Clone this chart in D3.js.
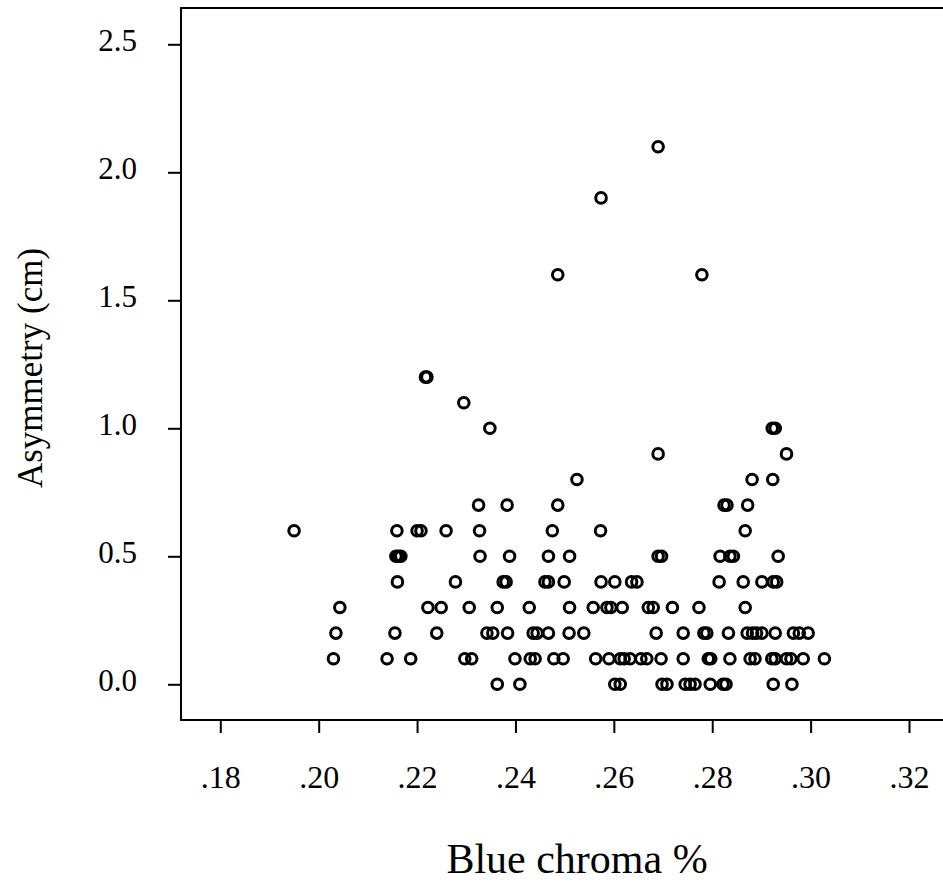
<!DOCTYPE html>
<html>
<head>
<meta charset="utf-8">
<script src="https://cdn.jsdelivr.net/npm/d3@7"></script>
<style>
  body { margin: 0; background: #fff; }
  svg { display: block; font-family: "Liberation Serif", "Times New Roman", serif; }
</style>
</head>
<body>
<div id="scatter"></div>
<script>
// tick labels
const xTicks = [0.18, 0.20, 0.22, 0.24, 0.26, 0.28, 0.30, 0.32];
const yTicks = [0.0, 0.5, 1.0, 1.5, 2.0, 2.5];

// asymmetry (cm) is recorded in 0.1 steps, so points sit in rows
const asymmetryLevels = [0.0, 0.1, 0.2, 0.3, 0.4, 0.5, 0.6, 0.7, 0.8, 0.9, 1.0, 1.1, 1.2, 1.6, 1.9, 2.1];

// blue chroma % of every case, one list per asymmetry level
const blueChromaRows = [
  [0.2363, 0.2409, 0.2602, 0.2613, 0.2698, 0.2708, 0.2745, 0.2755, 0.2765, 0.2796, 0.2822, 0.2828, 0.2924, 0.2962],
  [0.2030, 0.2139, 0.2187, 0.2297, 0.2311, 0.2399, 0.2430, 0.2440, 0.2478, 0.2497, 0.2563, 0.2590, 0.2613, 0.2621, 0.2633,
   0.2655, 0.2667, 0.2696, 0.2741, 0.2792, 0.2797, 0.2836, 0.2877, 0.2887, 0.2921, 0.2928, 0.2951, 0.2960, 0.2985, 0.3028],
  [0.2035, 0.2155, 0.2240, 0.2342, 0.2354, 0.2384, 0.2436, 0.2444, 0.2467, 0.2509, 0.2539, 0.2686, 0.2741, 0.2783, 0.2789,
   0.2833, 0.2871, 0.2882, 0.2890, 0.2901, 0.2928, 0.2965, 0.2977, 0.2995],
  [0.2043, 0.2222, 0.2249, 0.2306, 0.2363, 0.2428, 0.2510, 0.2558, 0.2586, 0.2594, 0.2617, 0.2670, 0.2680, 0.2719, 0.2773, 0.2867],
  [0.2160, 0.2278, 0.2375, 0.2381, 0.2460, 0.2467, 0.2499, 0.2574, 0.2602, 0.2636, 0.2647, 0.2814, 0.2863, 0.2901, 0.2924, 0.2931],
  [0.2157, 0.2162, 0.2167, 0.2328, 0.2388, 0.2467, 0.2510, 0.2690, 0.2697, 0.2816, 0.2836, 0.2843, 0.2934],
  [0.1950, 0.2159, 0.2200, 0.2208, 0.2259, 0.2327, 0.2475, 0.2573, 0.2867],
  [0.2325, 0.2383, 0.2486, 0.2824, 0.2830, 0.2872],
  [0.2525, 0.2881, 0.2923],
  [0.2690, 0.2951],
  [0.2348, 0.2922, 0.2928],
  [0.2295],
  [0.2217, 0.2220],
  [0.2486, 0.2779],
  [0.2574],
  [0.2690]
];

const width = 943, height = 882;
const frame = { left: 181, top: 8, bottom: 720, right: 970 };

const points = blueChromaRows.flatMap((row, i) =>
  row.map((v) => ({ chroma: v, asym: asymmetryLevels[i] })));

const svg = d3.select('#scatter').append('svg')
  .attr('width', width)
  .attr('height', height);

const x_scale = d3.scaleLinear()
  .domain([0.18, 0.32])
  .range([220.3, 909]);

const y_scale = d3.scaleLinear()
  .domain([0, 2.5])
  .range([684.3, 44.3]);

// open-ended box, right side runs off the picture
svg.append('rect')
  .attr('x', frame.left)
  .attr('y', frame.top)
  .attr('width', frame.right - frame.left)
  .attr('height', frame.bottom - frame.top)
  .attr('fill', 'none')
  .attr('stroke', '#000')
  .attr('stroke-width', 2);

const yAxis = svg.append('g')
  .attr('class', 'y-axis')
  .attr('transform', 'translate(' + frame.left + ',0)')
  .call(d3.axisLeft(y_scale)
    .tickValues(yTicks)
    .tickSize(13)
    .tickPadding(31)
    .tickFormat(d3.format('.1f')));

yAxis.select('.domain').remove();
yAxis.attr('font-family', null).attr('font-size', null);
yAxis.selectAll('line').attr('stroke', '#000').attr('stroke-width', 2);
yAxis.selectAll('text')
  .attr('fill', '#000')
  .attr('font-size', 31)
  .attr('dy', '0.2em');

const xAxis = svg.append('g')
  .attr('class', 'x-axis')
  .attr('transform', 'translate(0,' + frame.bottom + ')')
  .call(d3.axisBottom(x_scale)
    .tickValues(xTicks)
    .tickSize(13)
    .tickFormat((d) => d3.format('.2f')(d).replace(/^0/, '')));

xAxis.select('.domain').remove();
xAxis.attr('font-family', null).attr('font-size', null);
xAxis.selectAll('line').attr('stroke', '#000').attr('stroke-width', 2);
xAxis.selectAll('text')
  .attr('fill', '#000')
  .attr('font-size', 32)
  .attr('y', 68)
  .attr('dy', 0);

svg.append('g')
  .attr('class', 'points')
  .selectAll('circle')
  .data(points)
  .enter()
  .append('circle')
  .attr('cx', (d) => x_scale(d.chroma))
  .attr('cy', (d) => y_scale(d.asym))
  .attr('r', 5.3)
  .attr('fill', 'none')
  .attr('stroke', '#000')
  .attr('stroke-width', 3);

svg.append('text')
  .attr('class', 'x-title')
  .attr('x', 577)
  .attr('y', 873)
  .attr('text-anchor', 'middle')
  .attr('font-size', 42)
  .text('Blue chroma %');

svg.append('text')
  .attr('class', 'y-title')
  .attr('transform', 'translate(42,368) rotate(-90)')
  .attr('text-anchor', 'middle')
  .attr('font-size', 35)
  .text('Asymmetry (cm)');
</script>
</body>
</html>
